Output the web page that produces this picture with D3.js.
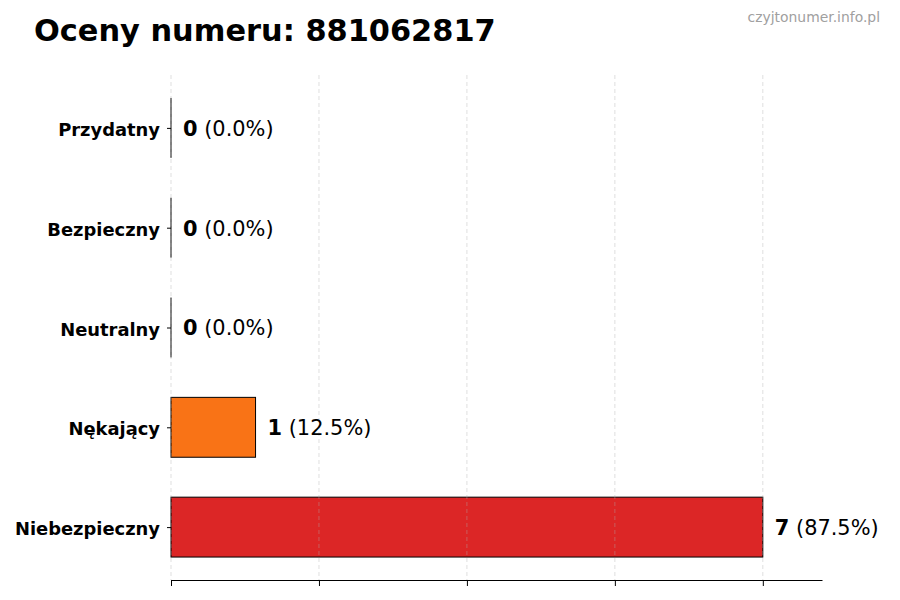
<!DOCTYPE html>
<html>
<head>
<meta charset="utf-8">
<script src="https://cdn.jsdelivr.net/npm/d3@7"></script>
<style>
  body { margin: 0; background: #fff; }
  svg { font-family: "DejaVu Sans", sans-serif; }
</style>
</head>
<body>
<svg id="chart"></svg>
<script>
// Data
const categories = ["Niebezpieczny", "Nękający", "Neutralny", "Bezpieczny", "Przydatny"];
const counts = [7, 1, 0, 0, 0];
const percents = ["87.5%", "12.5%", "0.0%", "0.0%", "0.0%"];
const barColors = ["#dc2626", "#f97316", "#6b7280", "#22c55e", "#3b82f6"];
const xTicks = [0, 1.75, 3.5, 5.25, 7];

const width = 900, height = 600;
const margin = {top: 75, bottom: 20, left: 171, right: 78};

const svg = d3.select("#chart")
  .attr("width", width)
  .attr("height", height);

// Scales
const xScale = d3.scaleLinear()
  .domain([0, d3.max(counts) * 1.1])
  .range([margin.left, width - margin.right]);

const yScale = d3.scalePoint()
  .domain(categories)
  .range([height - margin.bottom, margin.top])
  .padding(0.53);

const barH = yScale.step() * 0.6;

// Bars
svg.selectAll("rect.bar")
  .data(categories)
  .enter().append("rect")
  .attr("class", "bar")
  .attr("x", xScale(0))
  .attr("y", d => yScale(d) - barH / 2)
  .attr("width", (d, i) => xScale(counts[i]) - xScale(0))
  .attr("height", barH)
  .attr("fill", (d, i) => barColors[i])
  .attr("stroke", "#000")
  .attr("stroke-width", 1);

// empty bars still show their edge as a thin line
svg.selectAll("line.zero")
  .data(categories.filter((d, i) => counts[i] === 0))
  .enter().append("line")
  .attr("class", "zero")
  .attr("x1", xScale(0))
  .attr("x2", xScale(0))
  .attr("y1", d => yScale(d) - barH / 2)
  .attr("y2", d => yScale(d) + barH / 2)
  .attr("stroke", "#000")
  .attr("stroke-width", 1);

// Grid (drawn over the bars, like the original)
svg.append("g")
  .selectAll("line")
  .data(xTicks)
  .enter().append("line")
  .attr("x1", d => xScale(d))
  .attr("x2", d => xScale(d))
  .attr("y1", margin.top)
  .attr("y2", height - margin.bottom)
  .attr("stroke", "#b0b0b0")
  .attr("stroke-opacity", 0.5)
  .attr("stroke-dasharray", "4,3")
  .attr("stroke-width", 0.8);

// X axis: spine + ticks, no labels
const xAxis = svg.append("g")
  .attr("transform", `translate(0,${height - margin.bottom})`)
  .call(d3.axisBottom(xScale).tickValues(xTicks).tickSize(6).tickFormat("").tickSizeOuter(0));
xAxis.select(".domain").attr("stroke", "#000");
xAxis.selectAll(".tick line").attr("stroke", "#000");

// Y axis: ticks and bold labels, no spine
const yAxis = svg.append("g")
  .attr("transform", `translate(${margin.left},0)`)
  .call(d3.axisLeft(yScale).tickSize(4).tickPadding(7));
yAxis.select(".domain").remove();
yAxis.selectAll(".tick line").attr("stroke", "#000");
yAxis.selectAll(".tick text")
  .attr("fill", "#000")
  .attr("dy", "0.42em")
  .style("font-family", "DejaVu Sans")
  .style("font-size", "17.9px")
  .style("font-weight", "bold");

// Value labels
const labels = svg.selectAll("text.val")
  .data(categories)
  .enter().append("text")
  .attr("class", "val")
  .attr("x", (d, i) => xScale(counts[i]) + 12)
  .attr("y", d => yScale(d))
  .attr("dy", "0.38em")
  .style("font-size", "20.9px")
  .attr("fill", "#000");

labels.append("tspan")
  .style("font-weight", "bold")
  .text((d, i) => counts[i]);
labels.append("tspan")
  .text((d, i) => " (" + percents[i] + ")");

// Title
svg.append("text")
  .attr("x", 34)
  .attr("y", 41)
  .style("font-size", "30.4px")
  .style("font-weight", "bold")
  .attr("fill", "#000")
  .text("Oceny numeru: 881062817");

// Watermark
svg.append("text")
  .attr("x", 880)
  .attr("y", 22)
  .attr("text-anchor", "end")
  .style("font-size", "13.9px")
  .attr("fill", "#a0a0a0")
  .text("czyjtonumer.info.pl");
</script>
</body>
</html>
